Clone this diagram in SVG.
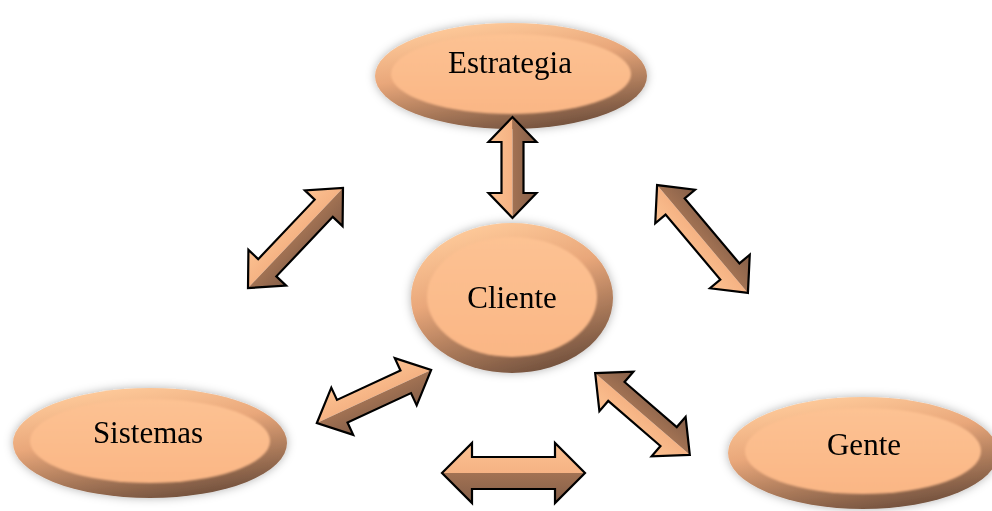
<svg xmlns="http://www.w3.org/2000/svg" width="992" height="511" viewBox="0 0 992 511">
  <defs>
    <!-- bevelled rim of the ellipses: light top-left, dark bottom-right -->
    <linearGradient id="rim" x1="0.3" y1="0" x2="0.7" y2="1">
      <stop offset="0" stop-color="#FFCB9B"/>
      <stop offset="0.4" stop-color="#E9A77A"/>
      <stop offset="1" stop-color="#6E4E3B"/>
    </linearGradient>
    <linearGradient id="face" x1="0" y1="0" x2="0" y2="1">
      <stop offset="0" stop-color="#FDC293"/>
      <stop offset="1" stop-color="#FAB685"/>
    </linearGradient>
    <linearGradient id="litSide" x1="0" y1="0" x2="0" y2="1">
      <stop offset="0" stop-color="#FCC292"/>
      <stop offset="1" stop-color="#F5B283"/>
    </linearGradient>
    <linearGradient id="darkSide" x1="0" y1="0" x2="0" y2="1">
      <stop offset="0" stop-color="#A27253"/>
      <stop offset="1" stop-color="#845E48"/>
    </linearGradient>
    <filter id="shadow" x="-20%" y="-30%" width="140%" height="160%">
      <feDropShadow dx="0" dy="0" stdDeviation="5" flood-color="#000" flood-opacity="0.3"/>
    </filter>
    <filter id="soft" x="-10%" y="-10%" width="120%" height="120%">
      <feGaussianBlur stdDeviation="1.2"/>
    </filter>
  </defs>
  <style>
    .rim { fill: url(#rim); }
    .face { fill: url(#face); filter: url(#soft); }
    .label { font-family: "Liberation Serif", "Times New Roman", serif; font-size: 31px; fill: #000; text-anchor: middle; }
    .lit { fill: url(#litSide); }
    .dark { fill: url(#darkSide); }
    .edge { fill: none; stroke: #000; stroke-width: 2.2; stroke-linejoin: miter; }
  </style>

  <rect width="992" height="511" fill="#fff"/>

  <!-- nodes -->
  <g id="estrategia" filter="url(#shadow)">
    <ellipse class="rim" cx="511" cy="76" rx="136" ry="53"/>
    <ellipse class="face" cx="511" cy="74" rx="120" ry="40"/>
    <text class="label" x="510" y="73">Estrategia</text>
  </g>

  <g id="cliente" filter="url(#shadow)">
    <ellipse class="rim" cx="512" cy="298" rx="101" ry="75"/>
    <ellipse class="face" cx="512" cy="297" rx="85" ry="60"/>
    <text class="label" x="512" y="308">Cliente</text>
  </g>

  <g id="sistemas" filter="url(#shadow)">
    <ellipse class="rim" cx="150" cy="443" rx="137" ry="55"/>
    <ellipse class="face" cx="150" cy="441" rx="120" ry="42"/>
    <text class="label" x="148" y="443">Sistemas</text>
  </g>

  <g id="gente" filter="url(#shadow)">
    <ellipse class="rim" cx="863" cy="453" rx="135" ry="56"/>
    <ellipse class="face" cx="863" cy="451" rx="118" ry="43"/>
    <text class="label" x="864" y="455">Gente</text>
  </g>

  <!-- connectors: bevelled double-headed block arrows -->
  <g id="connectors">
    <!-- Estrategia <-> Cliente (L=101, head 25, half-widths 24/11) -->
    <g transform="translate(512.5 167.5) rotate(-90)">
      <polygon class="lit" points="-50.5,0 -25.5,-24 -25.5,-11 25.5,-11 25.5,-24 50.5,0"/>
      <polygon class="dark" points="-50.5,0 -25.5,24 -25.5,11 25.5,11 25.5,24 50.5,0"/>
      <polygon class="edge" points="-50.5,0 -25.5,-24 -25.5,-11 25.5,-11 25.5,-24 50.5,0 25.5,24 25.5,11 -25.5,11 -25.5,24"/>
    </g>
    <!-- upper left (L=138) -->
    <g transform="translate(295.5 238) rotate(-46.5)">
      <polygon class="lit" points="-69,0 -41,-26 -41,-12.5 41,-12.5 41,-26 69,0"/>
      <polygon class="dark" points="-69,0 -41,26 -41,12.5 41,12.5 41,26 69,0"/>
      <polygon class="edge" points="-69,0 -41,-26 -41,-12.5 41,-12.5 41,-26 69,0 41,26 41,12.5 -41,12.5 -41,26"/>
    </g>
    <!-- upper right (L=141) -->
    <g transform="translate(702.5 239) rotate(-130.1)">
      <polygon class="lit" points="-70.5,0 -42.5,-26 -42.5,-12.5 42.5,-12.5 42.5,-26 70.5,0"/>
      <polygon class="dark" points="-70.5,0 -42.5,26 -42.5,12.5 42.5,12.5 42.5,26 70.5,0"/>
      <polygon class="edge" points="-70.5,0 -42.5,-26 -42.5,-12.5 42.5,-12.5 42.5,-26 70.5,0 42.5,26 42.5,12.5 -42.5,12.5 -42.5,26"/>
    </g>
    <!-- lower left (L=126) -->
    <g transform="translate(374 396.5) rotate(-24.9)">
      <polygon class="lit" points="-63,0 -35,-26 -35,-12.5 35,-12.5 35,-26 63,0"/>
      <polygon class="dark" points="-63,0 -35,26 -35,12.5 35,12.5 35,26 63,0"/>
      <polygon class="edge" points="-63,0 -35,-26 -35,-12.5 35,-12.5 35,-26 63,0 35,26 35,12.5 -35,12.5 -35,26"/>
    </g>
    <!-- lower right (L=125) -->
    <g transform="translate(642.5 414) rotate(-139.2)">
      <polygon class="lit" points="-62.5,0 -34.5,-26 -34.5,-12.5 34.5,-12.5 34.5,-26 62.5,0"/>
      <polygon class="dark" points="-62.5,0 -34.5,26 -34.5,12.5 34.5,12.5 34.5,26 62.5,0"/>
      <polygon class="edge" points="-62.5,0 -34.5,-26 -34.5,-12.5 34.5,-12.5 34.5,-26 62.5,0 34.5,26 34.5,12.5 -34.5,12.5 -34.5,26"/>
    </g>
    <!-- bottom, horizontal (L=143) -->
    <g transform="translate(513.5 473)">
      <polygon class="lit" points="-71.5,0 -41.5,-30 -41.5,-16 41.5,-16 41.5,-30 71.5,0"/>
      <polygon class="dark" points="-71.5,0 -41.5,30 -41.5,16 41.5,16 41.5,30 71.5,0"/>
      <polygon class="edge" points="-71.5,0 -41.5,-30 -41.5,-16 41.5,-16 41.5,-30 71.5,0 41.5,30 41.5,16 -41.5,16 -41.5,30"/>
    </g>
  </g>
</svg>
